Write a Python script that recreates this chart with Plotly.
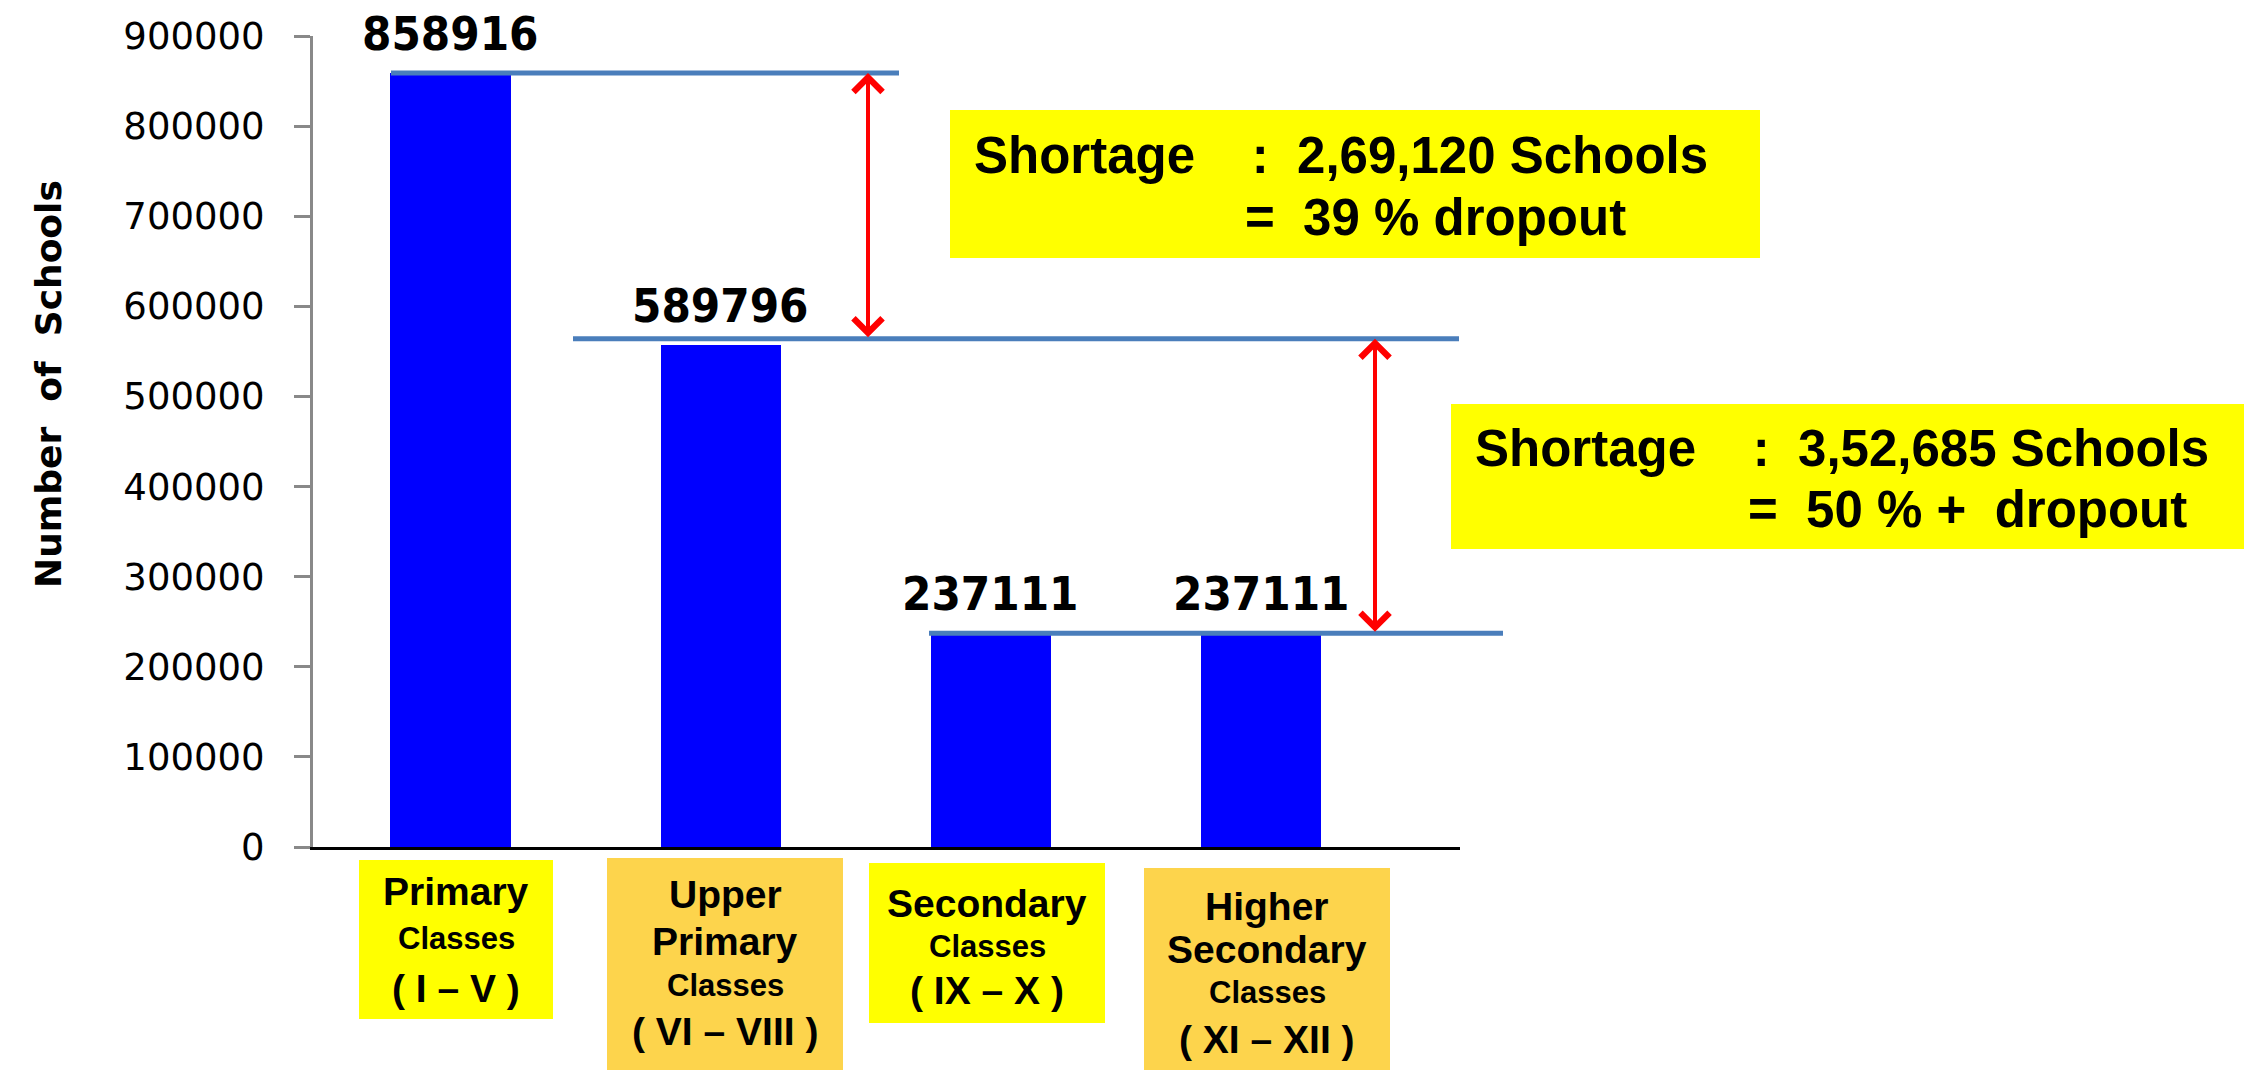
import plotly.graph_objects as go

# ---------------- data ----------------
categories = ["Primary", "Upper Primary", "Secondary", "Higher Secondary"]
bar_heights = [858916, 557000, 237111, 237111]          # heights as drawn
value_labels = ["858916", "589796", "237111", "237111"]  # printed numbers
guide_levels = [858916, 564000, 237111]                  # blue guide lines
y_tick_values = [0, 100000, 200000, 300000, 400000, 500000, 600000, 700000, 800000, 900000]
y_tick_labels = [str(v) for v in y_tick_values]
category_lines = [
    [("Primary", "big"), ("Classes", "small"), ("( I \u2013 V )", "big")],
    [("Upper", "big"), ("Primary", "big"), ("Classes", "small"), ("( VI \u2013 VIII )", "big")],
    [("Secondary", "big"), ("Classes", "small"), ("( IX \u2013 X )", "big")],
    [("Higher", "big"), ("Secondary", "big"), ("Classes", "small"), ("( XI \u2013 XII )", "big")],
]
shortage_lines = [
    ("Shortage    :  2,69,120 Schools", "=  39 % dropout"),
    ("Shortage    :  3,52,685 Schools", "=  50 % +  dropout"),
]
y_title = "Number  of  Schools"

# ---------------- layout geometry ----------------
W, H = 2244, 1070
ML, MR, MT, MB = 313, 784, 36, 223
PW, PH = W - ML - MR, H - MT - MB
X_RANGE = [-0.511, 3.737]


def px(x):
    return (x - ML) / PW


def py(y):
    return (H - MB - y) / PH


def nb(s):
    return s.replace(" ", "\u00a0")


BLUE_LINE = "#4a7ebb"
YELLOW = "#ffff00"
ORANGE = "#fdd44c"
AXIS_GRAY = "#898989"
LABEL_FONT = "Liberation Sans, Arial, sans-serif"

fig = go.Figure()
fig.add_trace(go.Bar(
    x=list(range(len(categories))),
    y=bar_heights,
    width=0.448,
    marker=dict(color="#0000ff", line=dict(width=0)),
    hoverinfo="skip",
    showlegend=False,
))

shapes = []
annotations = []

# value labels above bars
for i, (h, lab) in enumerate(zip(bar_heights, value_labels)):
    annotations.append(dict(
        x=i, y=h, xref="x", yref="y", text=lab, showarrow=False,
        yanchor="middle", xanchor="center", yshift=40,
        font=dict(family="DejaVu Sans Condensed, Liberation Sans, sans-serif",
                  size=47, color="#000000", weight="bold"),
    ))

# blue guide lines (x extents in pixels)
guide_spans = [(391, 899), (573, 1459), (929, 1503)]
for (x0, x1), lvl in zip(guide_spans, guide_levels):
    shapes.append(dict(type="line", xref="paper", yref="y",
                       x0=px(x0), x1=px(x1), y0=lvl, y1=lvl,
                       line=dict(color=BLUE_LINE, width=5), layer="above"))

# red double arrows
arrow_x = [868, 1375]
for k, ax_px in enumerate(arrow_x):
    annotations.append(dict(
        xref="paper", yref="y", x=px(ax_px), y=guide_levels[k],
        axref="pixel", ayref="y", ax=0, ay=guide_levels[k + 1],
        text="", showarrow=True, arrowside="end+start",
        arrowhead=4, startarrowhead=4, arrowsize=1.4, startarrowsize=1.4,
        arrowwidth=4, arrowcolor="#ff0000", standoff=0, startstandoff=0,
    ))

# shortage callout boxes
callout_boxes = [(950, 1760, 110, 258), (1451, 2244, 404, 549)]
callout_text_pos = [((972, 155), (1243, 217)), ((1473, 448), (1746, 510))]
for (x0, x1, y0, y1), (l1, l2), (p1, p2) in zip(callout_boxes, shortage_lines, callout_text_pos):
    shapes.append(dict(type="rect", xref="paper", yref="paper",
                       x0=px(x0), x1=px(x1), y0=py(y1), y1=py(y0),
                       fillcolor=YELLOW, line=dict(width=0), layer="above"))
    for txt, (tx, ty) in ((l1, p1), (l2, p2)):
        annotations.append(dict(
            xref="paper", yref="paper", x=px(tx), y=py(ty), text=nb(txt),
            showarrow=False, xanchor="left", yanchor="middle",
            font=dict(family=LABEL_FONT, size=51, color="#000000", weight="bold"),
        ))

# category label boxes
cat_boxes = [(359, 553, 860, 1019, YELLOW), (607, 843, 858, 1070, ORANGE),
             (869, 1105, 863, 1023, YELLOW), (1144, 1390, 868, 1070, ORANGE)]
cat_line_y = [[892, 938, 988], [894, 941, 985, 1031], [903, 946, 990], [906, 949, 992, 1039]]
for (x0, x1, y0, y1, col), lines, ys in zip(cat_boxes, category_lines, cat_line_y):
    shapes.append(dict(type="rect", xref="paper", yref="paper",
                       x0=px(x0), x1=px(x1), y0=py(y1), y1=py(y0),
                       fillcolor=col, line=dict(width=0), layer="above"))
    cx = (x0 + x1) / 2
    for (txt, kind), ty in zip(lines, ys):
        annotations.append(dict(
            xref="paper", yref="paper", x=px(cx), y=py(ty), text=nb(txt),
            showarrow=False, xanchor="center", yanchor="middle",
            font=dict(family=LABEL_FONT, size=39 if kind == "big" else 31,
                      color="#000000", weight="bold"),
        ))

# y-axis title
annotations.append(dict(
    xref="paper", yref="paper", x=px(48), y=py(384), text=nb(y_title),
    textangle=-90, showarrow=False, xanchor="center", yanchor="middle",
    font=dict(family="DejaVu Sans, Verdana, sans-serif", size=36, color="#000000", weight="bold"),
))

fig.update_layout(
    width=W, height=H,
    margin=dict(l=ML, r=MR, t=MT, b=MB, pad=0),
    paper_bgcolor="#ffffff", plot_bgcolor="#ffffff",
    showlegend=False,
    bargap=0,
    shapes=shapes,
    annotations=annotations,
    xaxis=dict(range=X_RANGE, showgrid=False, zeroline=False,
               showticklabels=False, ticks="", showline=True,
               linecolor="#000000", linewidth=3, fixedrange=True),
    yaxis=dict(range=[0, 900000], tickvals=y_tick_values, ticktext=y_tick_labels,
               showgrid=False, zeroline=False, showline=True,
               linecolor=AXIS_GRAY, linewidth=3,
               ticks="outside", ticklen=16, tickwidth=3, tickcolor=AXIS_GRAY,
               ticklabelstandoff=22,
               tickfont=dict(family="DejaVu Sans, Verdana, sans-serif", size=37, color="#000000"),
               fixedrange=True),
)

fig.write_html("out.html", config={"displayModeBar": False},
               post_script="document.body.style.margin='0';document.body.style.overflow='hidden';")
